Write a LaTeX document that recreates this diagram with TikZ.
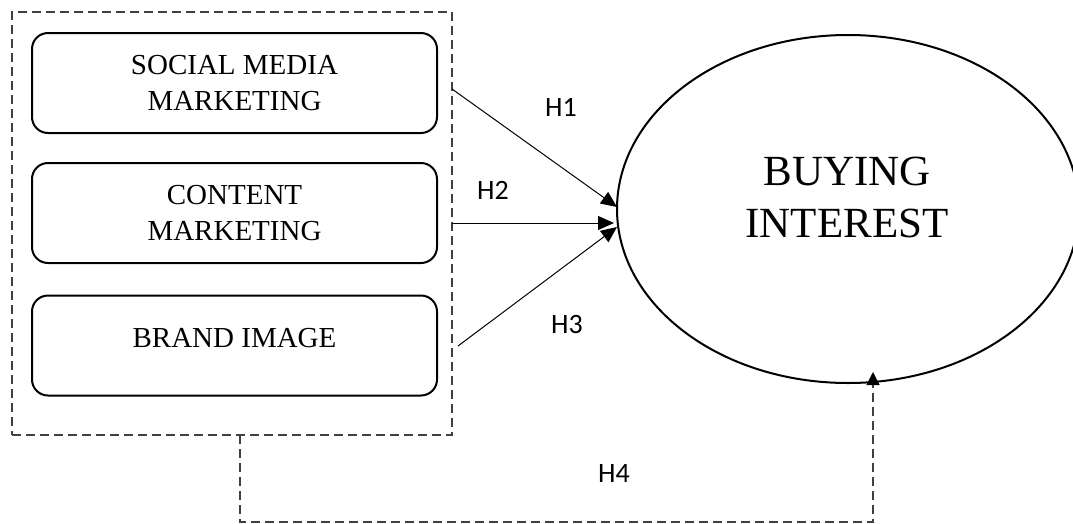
\documentclass[tikz,border=0pt]{standalone}
\usepackage{fontspec}
\setmainfont{Liberation Serif}
\newfontfamily\labelfont{Carlito}
\usetikzlibrary{arrows.meta, shapes.geometric}
\begin{document}
\begin{tikzpicture}[x=1pt, y=-1pt, >={Triangle[length=16pt, width=14pt]},
        varbox/.style={draw, line width=2pt, rounded corners=16pt, minimum width=405pt, minimum height=100pt, align=center, font=\fontsize{29}{36}\selectfont, inner sep=0pt},
        hyp/.style={font=\labelfont\fontsize{28}{30}\selectfont, inner sep=0pt},
        dashline/.style={draw=black!75, line width=1.3pt, dash pattern=on 9pt off 5pt}]
    \useasboundingbox (0,0) rectangle (1073,523);
    % independent variables
    \node[varbox] (smm) at (234.5, 83) {SOCIAL MEDIA\\MARKETING};
    \node[varbox] (cm) at (234.5, 213) {CONTENT\\MARKETING};
    \node[varbox] (bi) at (234.5, 345.5) {\raisebox{16pt}{BRAND IMAGE}};
    \node[dashline, minimum width=440pt, minimum height=423pt, inner sep=0pt] (grp) at (232, 223.5) {};
    % dependent variable
    \node[draw, ellipse, line width=2pt, minimum width=462pt, minimum height=348pt, inner sep=0pt] (buy) at (848, 209) {};
    \node[font=\fontsize{43}{52}\selectfont, align=center] (buytxt) at (847, 197) {BUYING\\INTEREST};
    % hypotheses
    \coordinate (s1) at (452, 89);
    \coordinate (s2) at (452, 223);
    \coordinate (s3) at (458, 346);
    \coordinate (e1) at (617, 207);
    \coordinate (e2) at (614, 223);
    \coordinate (e3) at (617, 227);
    \draw[->, line width=1pt] (s1) -- (e1);
    \draw[->, line width=1pt] (s2) -- (e2);
    \draw[->, line width=1pt] (s3) -- (e3);
    \node[hyp] (h1) at (561, 107) {H1};
    \node[hyp] (h2) at (493, 190) {H2};
    \node[hyp] (h3) at (567, 325) {H3};
    \node[hyp] (h4) at (614, 473) {H4};
    \coordinate (d1) at (240, 435);
    \coordinate (d2) at (873, 522);
    \coordinate (e4) at (873, 372);
    \draw[dashline, -{Triangle[length=13pt, width=13pt, fill=black, color=black]}] (d1) |- (d2) -- (e4);
\end{tikzpicture}
\end{document}
